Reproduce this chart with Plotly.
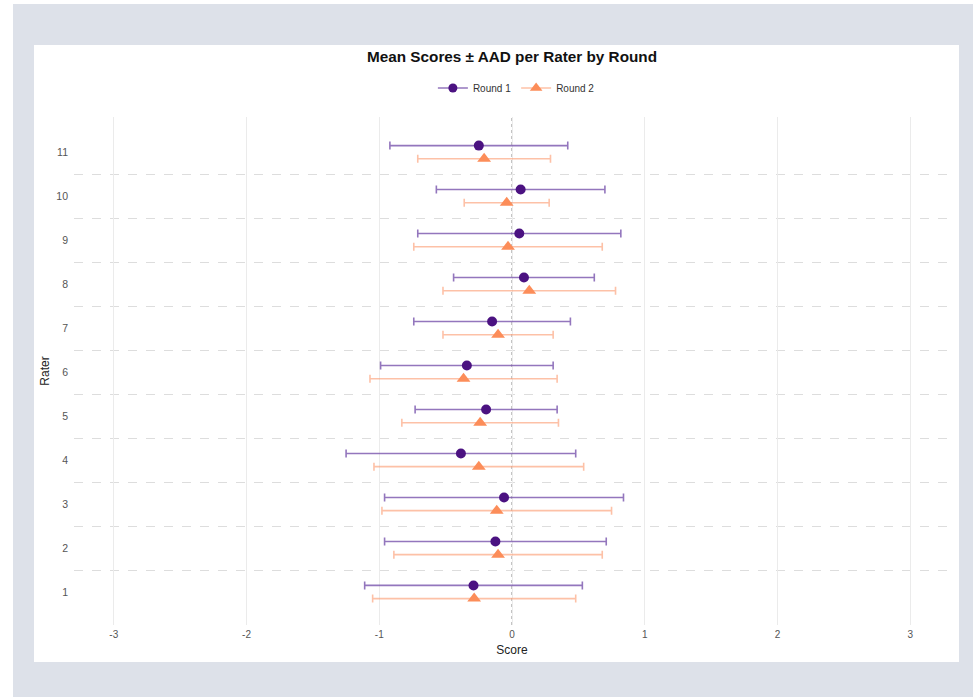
import plotly.graph_objects as go

raters = [1, 2, 3, 4, 5, 6, 7, 8, 9, 10, 11]
r1_mean = [-0.29, -0.125, -0.06, -0.385, -0.195, -0.34, -0.15, 0.09, 0.055, 0.065, -0.25]
r1_aad = [0.82, 0.835, 0.90, 0.865, 0.535, 0.65, 0.59, 0.53, 0.765, 0.635, 0.67]
r2_mean = [-0.285, -0.105, -0.115, -0.25, -0.24, -0.365, -0.105, 0.13, -0.03, -0.04, -0.21]
r2_aad = [0.765, 0.785, 0.865, 0.79, 0.59, 0.705, 0.415, 0.65, 0.71, 0.32, 0.50]
x_ticks = [-3, -2, -1, 0, 1, 2, 3]

offset = 0.15
FONT = "Liberation Sans, Arial, sans-serif"

R1_DARK = "#4b1281"
R1_BAR = "rgba(117,80,170,0.78)"
R2_DARK = "#fc8d59"
R2_BAR = "rgba(252,160,120,0.65)"

fig = go.Figure()

fig.add_trace(go.Scatter(
    x=r1_mean, y=[r + offset for r in raters], mode="markers",
    marker=dict(symbol="circle", size=10, color=R1_DARK),
    error_x=dict(type="data", array=r1_aad, color=R1_BAR, thickness=1.6, width=4),
    showlegend=False, name="Round 1",
))
fig.add_trace(go.Scatter(
    x=r2_mean, y=[r - offset for r in raters], mode="markers",
    marker=dict(symbol="triangle-up", size=12, color=R2_DARK),
    error_x=dict(type="data", array=r2_aad, color=R2_BAR, thickness=1.6, width=4),
    showlegend=False, name="Round 2",
))
# legend entries
fig.add_trace(go.Scatter(
    x=[None], y=[None], mode="lines+markers", name="Round 1",
    marker=dict(symbol="circle", size=9, color=R1_DARK),
    line=dict(color=R1_BAR, width=1.6),
))
fig.add_trace(go.Scatter(
    x=[None], y=[None], mode="lines+markers", name="Round 2",
    marker=dict(symbol="triangle-up", size=11, color=R2_DARK),
    line=dict(color=R2_BAR, width=1.6),
))

L, R, T, B = 74, 23, 117, 72
W, H = 973, 697
pw, ph = W - L - R, H - T - B

def px_x(p):
    return (p - L) / pw

def px_y(p):
    return (H - B - p) / ph

shapes = [
    dict(type="rect", xref="paper", yref="paper", layer="below",
         x0=px_x(13), x1=px_x(W + 10), y0=px_y(H + 10), y1=px_y(4),
         fillcolor="#dde1e9", line=dict(width=0)),
    dict(type="rect", xref="paper", yref="paper", layer="below",
         x0=px_x(34), x1=px_x(959), y0=px_y(662), y1=px_y(45),
         fillcolor="white", line=dict(width=0)),
    dict(type="line", xref="x", yref="paper", layer="between",
         x0=0, x1=0, y0=0, y1=1,
         line=dict(color="#888888", width=1, dash="dot")),
]

fig.update_layout(
    width=W, height=H,
    margin=dict(l=L, r=R, t=T, b=B),
    paper_bgcolor="white",
    plot_bgcolor="rgba(0,0,0,0)",
    font=dict(family=FONT, color="#333333"),
    title=dict(text="<b>Mean Scores ± AAD per Rater by Round</b>",
               x=0.5, xref="paper", xanchor="center",
               y=1 - 57 / H, yref="container", yanchor="middle",
               font=dict(size=15.3, color="#111111", family=FONT)),
    legend=dict(orientation="h", x=0.505, xanchor="center", y=px_y(88), yanchor="middle",
                font=dict(size=10, color="#333333"), bgcolor="rgba(0,0,0,0)",
                itemwidth=30),
    shapes=shapes,
    xaxis=dict(range=[-3.3, 3.3], tickvals=x_ticks, ticktext=[str(v) for v in x_ticks],
               showgrid=True, gridcolor="#ebebeb", gridwidth=1, zeroline=False,
               showline=False, ticks="", tickfont=dict(size=10, color="#555555"),
               ticklabelstandoff=2,
               title=dict(text="Score", font=dict(size=12, color="#222222"), standoff=6)),
    yaxis=dict(range=[0.25, 11.8], tickvals=raters, ticktext=[str(r) for r in raters],
               showgrid=False, zeroline=False, showline=False, ticks="",
               tickfont=dict(size=10.5, color="#555555"), ticklabelstandoff=5,
               minor=dict(tickvals=[r + 0.5 for r in raters[:-1]], showgrid=True,
                          gridcolor="#dddddd", griddash="dash", gridwidth=1, ticks=""),
               title=dict(text="Rater", font=dict(size=12, color="#222222"), standoff=4)),
)

fig.write_html("out.html")
